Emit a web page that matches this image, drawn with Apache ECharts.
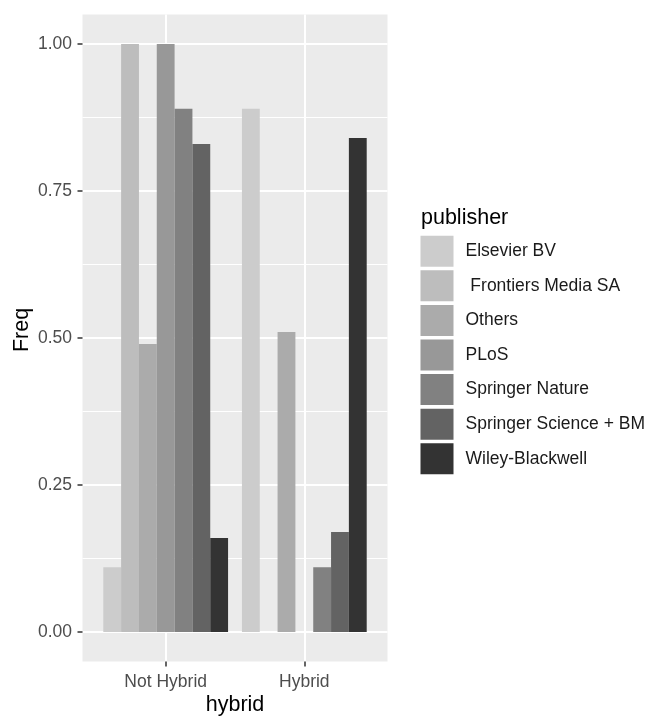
<!DOCTYPE html>
<html>
<head>
<meta charset="utf-8">
<script src="https://cdn.jsdelivr.net/npm/echarts@6/dist/echarts.min.js"></script>
<style>
html,body{margin:0;padding:0;background:#fff;}
#c{width:653px;height:716px;}
</style>
</head>
<body>
<div id="c"></div>
<script>
var categories = ['Not Hybrid', 'Hybrid'];
var publishers = ['Elsevier BV', ' Frontiers Media SA', 'Others', 'PLoS', 'Springer Nature', 'Springer Science + BM', 'Wiley-Blackwell'];
var freqNotHybrid = [0.11, 1.00, 0.49, 1.00, 0.89, 0.83, 0.16];
var freqHybrid = [0.89, null, 0.51, null, 0.11, 0.17, 0.84];
var yTicks = [0, 0.25, 0.5, 0.75, 1];
var yMinor = [0.125, 0.375, 0.625, 0.875];
var xTicks = [1, 2];
var colors = ['#CCCCCC', '#BDBDBD', '#ABABAB', '#989898', '#818181', '#636363', '#333333'];

var FONT = 'Liberation Sans, Arial, sans-serif';
var chart = echarts.init(document.getElementById('c'), null, {renderer: 'canvas'});

var series = publishers.map(function (p, i) {
  return {
    name: p,
    type: 'bar',
    xAxisIndex: 0,
    yAxisIndex: 0,
    barWidth: (90 / 7) + '%',
    barGap: '0%',
    itemStyle: {color: colors[i]},
    emphasis: {disabled: true},
    data: [[xTicks[0], freqNotHybrid[i]], [xTicks[1], freqHybrid[i]]]
  };
});

chart.setOption({
  animation: false,
  backgroundColor: '#ffffff',
  grid: {
    left: 82.5, right: 265.5, top: 14.6, bottom: 54.6,
    show: true, backgroundColor: '#EBEBEB', borderWidth: 0,
    containLabel: false
  },
  xAxis: [{
    type: 'value', min: 0.4, max: 2.6, position: 'bottom',
    axisLine: {show: false, onZero: false},
    axisTick: {show: true, customValues: xTicks, length: 5, lineStyle: {color: '#333333', width: 1.5}},
    axisLabel: {
      show: true, customValues: xTicks, margin: 12,
      color: '#4D4D4D', fontSize: 17.5, fontFamily: FONT,
      formatter: function (v) { return categories[Math.round(v) - 1] || ''; }
    },
    splitLine: {show: true, lineStyle: {color: '#FFFFFF', width: 2}}
  }],
  yAxis: [{
    type: 'value', min: -0.05, max: 1.05,
    axisLine: {show: false, onZero: false},
    axisTick: {show: true, customValues: yTicks, length: 5, lineStyle: {color: '#333333', width: 1.5}},
    axisLabel: {
      show: true, customValues: yTicks, margin: 10.5,
      color: '#4D4D4D', fontSize: 17.5, fontFamily: FONT,
      formatter: function (v) { return v.toFixed(2); }
    },
    splitLine: {show: true, lineStyle: {color: '#FFFFFF', width: 2}}
  }, {
    type: 'value', min: -0.05, max: 1.05, position: 'left',
    axisLine: {show: false, onZero: false},
    axisTick: {show: false, customValues: yMinor},
    axisLabel: {show: false, customValues: yMinor},
    splitLine: {show: true, lineStyle: {color: '#FFFFFF', width: 1}}
  }],
  legend: {
    orient: 'vertical',
    left: 420.5, top: 235.7, padding: 0,
    icon: 'rect',
    itemWidth: 33, itemHeight: 31, itemGap: 3.6,
    selectedMode: false,
    data: publishers,
    textStyle: {color: '#1A1A1A', fontSize: 17.5, fontFamily: FONT, padding: [0, 0, 0, 7]}
  },
  graphic: [
    {type: 'text', x: 235, y: 705.5, style: {text: 'hybrid', fill: '#000', font: '21.5px ' + FONT, align: 'center', verticalAlign: 'middle'}},
    {type: 'text', x: 22, y: 330, rotation: Math.PI / 2, style: {text: 'Freq', fill: '#000', font: '21.5px ' + FONT, align: 'center', verticalAlign: 'middle'}},
    {type: 'text', x: 421, y: 218.5, style: {text: 'publisher', fill: '#000', font: '21.5px ' + FONT, align: 'left', verticalAlign: 'middle'}}
  ],
  series: series
});
</script>
</body>
</html>
